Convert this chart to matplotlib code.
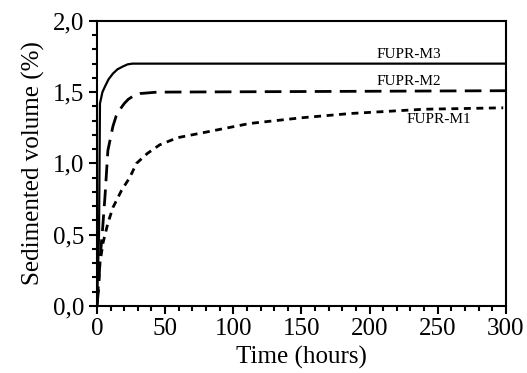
import matplotlib.pyplot as plt
from matplotlib.ticker import MultipleLocator, FuncFormatter

# time (hours) and sedimented volume (%)
t_m3 = [0, 1.5, 2.2, 4, 5.9, 8.5, 11.7, 15, 19, 22.5, 26, 32, 300]
v_m3 = [0, 0.5, 1.42, 1.50, 1.54, 1.59, 1.63, 1.66, 1.68, 1.695, 1.70, 1.70, 1.70]

t_m2 = [0, 1.2, 2.2, 4.2, 5.9, 8, 11.7, 14, 17, 20, 23, 27, 31.5, 44, 300]
v_m2 = [0, 0.12, 0.32, 0.55, 0.77, 1.09, 1.26, 1.33, 1.38, 1.42, 1.45, 1.475, 1.49, 1.50, 1.51]

t_m1 = [0, 1, 2.2, 4.4, 8, 11.7, 18, 24, 29, 37, 46, 59, 75, 112, 150, 186, 240, 298]
v_m1 = [0, 0.14, 0.30, 0.44, 0.58, 0.69, 0.81, 0.90, 1.00, 1.07, 1.13, 1.18, 1.21, 1.28, 1.32, 1.35, 1.38, 1.39]

labels = ['FUPR-M3', 'FUPR-M2', 'FUPR-M1']
label_pos = [(229, 1.765), (229, 1.575), (251, 1.31)]

plt.rcParams['font.family'] = ['Liberation Serif', 'DejaVu Serif']

fig = plt.figure(figsize=(5.27, 3.73), dpi=100)
ax = fig.add_axes([0.184, 0.180, 0.776, 0.764])

ax.plot(t_m3, v_m3, color='black', lw=1.6, ls='-')
ax.plot(t_m2, v_m2, color='black', lw=2.0, ls=(0, (6, 3)))
ax.plot(t_m1, v_m1, color='black', lw=2.0, ls=(0, (2.5, 2)))

for lab, (x, y) in zip(labels, label_pos):
    ax.text(x, y, lab, ha='center', va='center', fontsize=11)

ax.set_xlim(0, 300)
ax.set_ylim(0, 2.0)
ax.xaxis.set_major_locator(MultipleLocator(50))
ax.xaxis.set_minor_locator(MultipleLocator(10))
ax.yaxis.set_major_locator(MultipleLocator(0.5))
ax.yaxis.set_minor_locator(MultipleLocator(0.1))
ax.yaxis.set_major_formatter(FuncFormatter(lambda v, p: f'{v:.1f}'.replace('.', ',')))

ax.tick_params(which='both', direction='out', top=False, right=False, width=1.5)
ax.tick_params(which='major', length=6, labelsize=18, pad=3)
ax.tick_params(which='minor', length=3.5)
for s in ax.spines.values():
    s.set_linewidth(1.5)

ax.set_xlabel('Time (hours)', fontsize=18, labelpad=4)
ax.set_ylabel('Sedimented volume (%)', fontsize=18, labelpad=6)

fig.savefig('out.png', dpi=100)
